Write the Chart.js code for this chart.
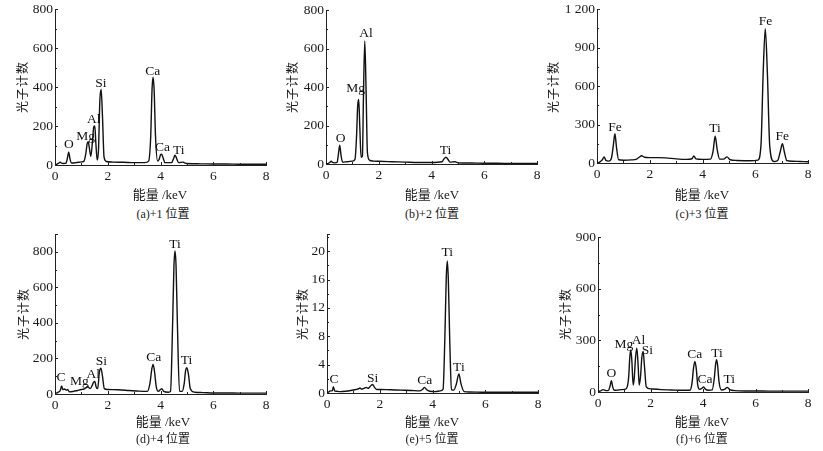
<!DOCTYPE html>
<html>
<head>
<meta charset="utf-8">
<script src="https://cdn.jsdelivr.net/npm/chart.js@4.4.0/dist/chart.umd.min.js"></script>
<style>
body { margin: 0; background: #fff; width: 823px; height: 451px; position: relative; overflow: hidden;
       font-family: 'Liberation Serif', 'Noto Sans CJK SC', serif; color: #1a1a1a; }
canvas { position: absolute; }
.t { position: absolute; white-space: nowrap; transform: translate(-50%, -50%); font-size: 13px; }
.yt { transform: translate(-50%, -50%) rotate(-90deg); font-size: 12px; letter-spacing: 1px; }
.cap { font-size: 12px; }
</style>
</head>
<body>
<canvas id="chartA"></canvas>
<canvas id="chartB"></canvas>
<canvas id="chartC"></canvas>
<canvas id="chartD"></canvas>
<canvas id="chartE"></canvas>
<canvas id="chartF"></canvas>

<div class="t yt" style="left:22px;top:87px">光子计数</div>
<div class="t yt" style="left:292px;top:87px">光子计数</div>
<div class="t yt" style="left:553px;top:87px">光子计数</div>
<div class="t yt" style="left:23px;top:314px">光子计数</div>
<div class="t yt" style="left:302px;top:314px">光子计数</div>
<div class="t yt" style="left:565px;top:314px">光子计数</div>

<div class="t" style="left:160px;top:193px">能量 /keV</div>
<div class="t" style="left:432px;top:193px">能量 /keV</div>
<div class="t" style="left:702px;top:193px">能量 /keV</div>
<div class="t" style="left:163px;top:420px">能量 /keV</div>
<div class="t" style="left:432px;top:420px">能量 /keV</div>
<div class="t" style="left:702px;top:420px">能量 /keV</div>

<div class="t cap" style="left:163px;top:213px">(a)+1 位置</div>
<div class="t cap" style="left:432px;top:213px">(b)+2 位置</div>
<div class="t cap" style="left:702px;top:213px">(c)+3 位置</div>
<div class="t cap" style="left:163px;top:438px">(d)+4 位置</div>
<div class="t cap" style="left:432px;top:438px">(e)+5 位置</div>
<div class="t cap" style="left:702px;top:438px">(f)+6 位置</div>

<script>
// 能谱数据 (能量 keV / 光子计数)
const energyA = [0, 0.05, 0.12, 0.2, 0.25, 0.32, 0.42, 0.47, 0.52, 0.57, 0.63, 0.8, 1.0, 1.1, 1.17, 1.22, 1.26, 1.30, 1.36, 1.42, 1.47, 1.51, 1.55, 1.6, 1.65, 1.7, 1.75, 1.8, 1.86, 1.95, 2.2, 2.6, 3.0, 3.4, 3.55, 3.63, 3.68, 3.72, 3.76, 3.81, 3.89, 3.95, 4.0, 4.04, 4.09, 4.17, 4.42, 4.5, 4.55, 4.6, 4.68, 4.85, 4.9, 5.0, 5.5, 6.0, 6.5, 7.0, 7.5, 8.0];
const countsA = [5, 3, 8, 14, 10, 8, 10, 35, 66, 30, 10, 12, 16, 20, 60, 110, 120, 90, 45, 120, 195, 200, 110, 25, 80, 330, 388, 250, 40, 18, 15, 14, 12, 12, 20, 150, 390, 450, 380, 150, 20, 30, 52, 56, 40, 12, 12, 35, 50, 38, 12, 15, 12, 8, 6, 5, 5, 4, 4, 4];

const energyB = [0, 0.05, 0.12, 0.2, 0.25, 0.32, 0.42, 0.47, 0.52, 0.57, 0.63, 0.8, 1.0, 1.1, 1.16, 1.2, 1.24, 1.28, 1.33, 1.38, 1.42, 1.47, 1.52, 1.57, 1.65, 1.8, 2.0, 2.5, 3.0, 3.5, 4.0, 4.4, 4.48, 4.55, 4.62, 4.7, 4.9, 5.0, 5.5, 6.0, 6.5, 7.0, 7.5, 8.0];
const countsB = [3, 2, 6, 14, 8, 6, 8, 50, 98, 45, 10, 12, 15, 25, 150, 300, 335, 200, 35, 40, 350, 640, 380, 60, 20, 15, 14, 12, 10, 8, 8, 12, 28, 35, 25, 10, 12, 6, 5, 4, 4, 3, 3, 3];

const energyC = [0, 0.05, 0.12, 0.2, 0.27, 0.34, 0.45, 0.55, 0.62, 0.68, 0.74, 0.82, 1.0, 1.3, 1.5, 1.6, 1.69, 1.8, 2.0, 2.3, 2.6, 3.0, 3.4, 3.6, 3.67, 3.75, 4.0, 4.3, 4.4, 4.48, 4.56, 4.65, 4.8, 4.93, 5.05, 5.3, 5.8, 6.1, 6.22, 6.3, 6.38, 6.46, 6.55, 6.7, 6.85, 6.95, 7.03, 7.1, 7.2, 7.4, 7.7, 8.0];
const countsC = [5, 3, 10, 25, 48, 20, 15, 40, 140, 228, 120, 25, 22, 24, 30, 45, 56, 45, 42, 42, 40, 32, 28, 33, 55, 32, 28, 30, 90, 208, 100, 30, 30, 48, 25, 20, 18, 22, 150, 700, 1048, 700, 130, 12, 20, 90, 150, 90, 18, 14, 12, 10];

const energyD = [0, 0.05, 0.12, 0.2, 0.25, 0.3, 0.36, 0.42, 0.48, 0.55, 0.7, 0.85, 1.0, 1.1, 1.18, 1.23, 1.27, 1.33, 1.4, 1.46, 1.51, 1.56, 1.62, 1.68, 1.74, 1.8, 1.87, 2.0, 2.4, 2.8, 3.2, 3.5, 3.6, 3.67, 3.72, 3.77, 3.84, 3.92, 4.0, 4.05, 4.12, 4.3, 4.38, 4.46, 4.51, 4.55, 4.59, 4.64, 4.72, 4.82, 4.9, 4.95, 5.0, 5.06, 5.13, 5.3, 5.6, 6.0, 6.5, 7.0, 7.5, 8.0];
const countsD = [5, 5, 10, 20, 45, 25, 28, 22, 25, 12, 15, 20, 25, 28, 35, 42, 38, 30, 45, 65, 70, 40, 30, 120, 145, 100, 30, 25, 24, 20, 16, 15, 60, 140, 167, 130, 40, 15, 25, 30, 15, 10, 15, 400, 720, 805, 720, 400, 15, 15, 60, 130, 148, 110, 30, 10, 8, 6, 6, 5, 5, 5];

const energyE = [0, 0.05, 0.12, 0.2, 0.24, 0.29, 0.35, 0.5, 0.7, 0.9, 1.1, 1.2, 1.25, 1.3, 1.4, 1.5, 1.55, 1.62, 1.68, 1.73, 1.8, 1.88, 2.0, 2.4, 2.8, 3.2, 3.5, 3.62, 3.7, 3.78, 3.9, 4.1, 4.3, 4.4, 4.47, 4.52, 4.56, 4.6, 4.65, 4.72, 4.8, 4.9, 5.0, 5.08, 5.2, 5.4, 6.0, 6.5, 7.0, 7.5, 8.0];
const countsE = [0.2, 0.1, 0.3, 0.3, 0.9, 0.3, 0.25, 0.2, 0.25, 0.35, 0.5, 0.6, 0.7, 0.55, 0.65, 0.8, 0.65, 0.85, 1.1, 1.2, 0.8, 0.5, 0.5, 0.45, 0.4, 0.35, 0.3, 0.5, 0.8, 0.45, 0.25, 0.2, 0.3, 0.5, 8, 16, 18.6, 16, 8, 0.5, 0.4, 1.2, 2.7, 1.3, 0.2, 0.15, 0.1, 0.1, 0.1, 0.1, 0.1];

const energyF = [0, 0.05, 0.12, 0.18, 0.23, 0.3, 0.4, 0.46, 0.51, 0.56, 0.62, 0.8, 1.0, 1.1, 1.17, 1.21, 1.25, 1.29, 1.34, 1.38, 1.43, 1.48, 1.53, 1.57, 1.62, 1.67, 1.72, 1.77, 1.84, 2.0, 2.4, 2.8, 3.2, 3.5, 3.58, 3.64, 3.69, 3.74, 3.8, 3.88, 3.96, 4.02, 4.08, 4.2, 4.35, 4.43, 4.48, 4.52, 4.56, 4.61, 4.7, 4.82, 4.92, 5.02, 5.2, 5.6, 6.0, 6.5, 7.0, 7.5, 8.0];
const countsF = [5, 4, 8, 14, 12, 8, 10, 35, 65, 30, 10, 12, 15, 25, 90, 200, 245, 180, 40, 80, 200, 255, 150, 40, 90, 200, 235, 150, 30, 18, 14, 12, 10, 10, 50, 140, 178, 140, 40, 15, 22, 30, 18, 10, 12, 80, 160, 187, 150, 60, 12, 15, 27, 14, 8, 6, 6, 5, 5, 5, 5];

// 元素标注 (名称, 能量, 计数)
const peakNamesA = ['O', 'Mg', 'Al', 'Si', 'Ca', 'Ca', 'Ti'];
const peakKevA = [0.53, 1.16, 1.47, 1.74, 3.71, 4.08, 4.69];
const peakCountA = [106, 147, 236, 416, 480, 92, 76];

const peakNamesB = ['O', 'Mg', 'Al', 'Ti'];
const peakKevB = [0.55, 1.12, 1.52, 4.53];
const peakCountB = [132, 393, 679, 72];

const peakNamesC = ['Fe', 'Ti', 'Fe', 'Fe'];
const peakKevC = [0.68, 4.47, 6.39, 7.02];
const peakCountC = [279, 267, 1100, 208];

const peakNamesD = ['C', 'Mg', 'Al', 'Si', 'Ca', 'Ti', 'Ti'];
const peakKevD = [0.23, 0.92, 1.45, 1.76, 3.74, 4.55, 4.99];
const peakCountD = [92, 69, 111, 186, 204, 839, 191];

const peakNamesE = ['C', 'Si', 'Ca', 'Ti', 'Ti'];
const peakKevE = [0.27, 1.73, 3.71, 4.56, 5.0];
const peakCountE = [1.84, 2.08, 1.7, 19.8, 3.59];

const peakNamesF = ['O', 'Mg', 'Al', 'Si', 'Ca', 'Ca', 'Ti', 'Ti'];
const peakKevF = [0.51, 0.99, 1.54, 1.88, 3.69, 4.08, 4.53, 5.0];
const peakCountF = [107, 279, 298, 241, 216, 74, 225, 74];

const yMaxes = [800, 800, 1200, 900, 22.4, 900];
const ySteps = [200, 200, 300, 200, 4, 300];

// 坐标轴内侧刻度 + 元素标注
const innerTicks = {
    id: 'innerTicks',
    afterDraw(chart) {
        const { ctx, chartArea: a } = chart;
        const x = chart.scales.x, y = chart.scales.y;
        const step = chart.options.scales.y.ticks.stepSize;
        ctx.save();
        ctx.strokeStyle = '#222';
        ctx.lineWidth = 1;
        ctx.beginPath();
        for (let v = 0; v <= y.max + 1e-9; v += step / 2) {
            const py = Math.round(y.getPixelForValue(v)) + 0.5;
            const len = Math.abs((v / step) % 1) < 1e-6 ? 3 : 2;
            ctx.moveTo(a.left, py); ctx.lineTo(a.left + len, py);
        }
        const pTop = Math.round(a.top) + 0.5;
        ctx.moveTo(a.left, pTop); ctx.lineTo(a.left + 3, pTop);
        for (let v = 1; v <= 8; v++) {
            const px = Math.round(x.getPixelForValue(v)) + 0.5;
            const len = v % 2 === 0 ? 3 : 2;
            ctx.moveTo(px, a.bottom); ctx.lineTo(px, a.bottom - len);
        }
        ctx.stroke();

        const lab = chart.options.plugins.innerTicks;
        ctx.fillStyle = '#111';
        ctx.font = '13.5px "Liberation Serif", serif';
        ctx.textAlign = 'center';
        ctx.textBaseline = 'middle';
        lab.names.forEach((n, i) => {
            ctx.fillText(n, x.getPixelForValue(lab.kev[i]), y.getPixelForValue(lab.count[i]));
        });
        ctx.restore();
    }
};

// 各图在页面中的绘图区 [左, 右, 上, 下]
const boxes = [
    [55, 266, 7, 165], [326, 537, 8, 164], [597, 808, 7, 163],
    [55, 266, 232, 394], [327, 538, 232, 393], [598, 808, 235, 392]
];
const ids = ['chartA', 'chartB', 'chartC', 'chartD', 'chartE', 'chartF'];
const energies = [energyA, energyB, energyC, energyD, energyE, energyF];
const counts = [countsA, countsB, countsC, countsD, countsE, countsF];
const names = [peakNamesA, peakNamesB, peakNamesC, peakNamesD, peakNamesE, peakNamesF];
const kevs = [peakKevA, peakKevB, peakKevC, peakKevD, peakKevE, peakKevF];
const peakCounts = [peakCountA, peakCountB, peakCountC, peakCountD, peakCountE, peakCountF];

const tickFont = { family: "'Liberation Serif', serif", size: 13.5 };

ids.forEach((id, k) => {
    const [L, R, T, B] = boxes[k];
    const cv = document.getElementById(id);
    const w = R - L + 56, h = B - T + 32;
    cv.style.left = (L - 48) + 'px';
    cv.style.top = (T - 8) + 'px';
    cv.style.width = w + 'px';
    cv.style.height = h + 'px';
    cv.width = w; cv.height = h;

    new Chart(cv.getContext('2d'), {
        type: 'line',
        data: {
            datasets: [{
                data: energies[k].map((e, i) => ({ x: e, y: counts[k][i] })),
                borderColor: '#111',
                borderWidth: 1.4,
                pointRadius: 0,
                fill: false,
                cubicInterpolationMode: 'monotone'
            }]
        },
        options: {
            responsive: false,
            animation: false,
            layout: { padding: { left: 0, top: 8, right: 8, bottom: 0 } },
            plugins: {
                legend: { display: false },
                tooltip: { enabled: false },
                innerTicks: { names: names[k], kev: kevs[k], count: peakCounts[k] }
            },
            scales: {
                x: {
                    type: 'linear', min: 0, max: 8,
                    grid: { display: false, drawTicks: false },
                    border: { display: true, color: '#222', width: 1 },
                    ticks: { stepSize: 2, padding: 3, color: '#1a1a1a', font: tickFont, maxRotation: 0 },
                    afterFit(s) { s.height = 24; }
                },
                y: {
                    min: 0, max: yMaxes[k],
                    grid: { display: false, drawTicks: false },
                    border: { display: true, color: '#222', width: 1 },
                    ticks: {
                        stepSize: ySteps[k], includeBounds: false, padding: 2, color: '#1a1a1a', font: tickFont,
                        callback: v => (v >= 1000 ? '1 ' + String(v).slice(1) : v)
                    },
                    afterFit(s) { s.width = 48; }
                }
            }
        },
        plugins: [innerTicks]
    });
});
</script>
</body>
</html>
